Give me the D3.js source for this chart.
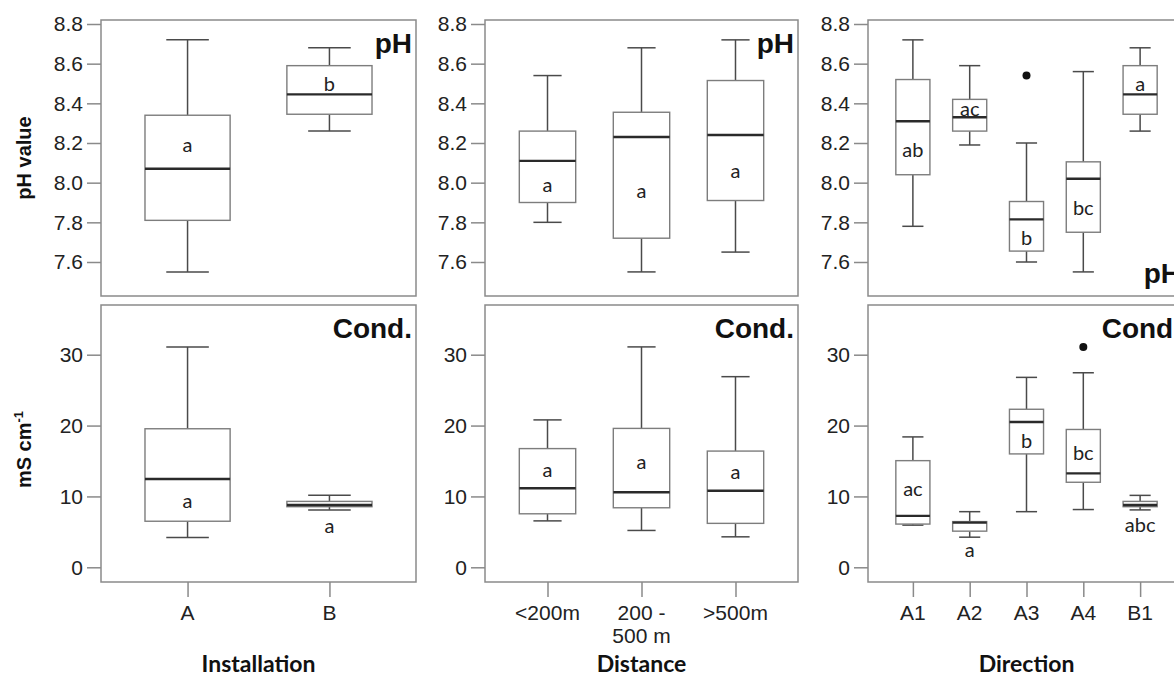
<!DOCTYPE html>
<html>
<head>
<meta charset="utf-8">
<script src="https://cdn.jsdelivr.net/npm/d3@7"></script>
<style>
  html, body { margin: 0; padding: 0; background: #fff; }
  svg { display: block; }
</style>
</head>
<body>
<svg id="chart" width="1174" height="676"></svg>
<script>
// ---- categories ----
const installCats = ["A", "B"];
const distanceCats = ["<200m", "200 -\n500 m", ">500m"];
const directionCats = ["A1", "A2", "A3", "A4", "B1"];

// ---- tick labels ----
const phTicks = [7.6, 7.8, 8.0, 8.2, 8.4, 8.6, 8.8];
const condTicks = [0, 10, 20, 30];

// ---- box statistics: [lower whisker, Q1, median, Q3, upper whisker] ----
const phInstallation = [[7.55, 7.81, 8.07, 8.34, 8.72], [8.26, 8.345, 8.445, 8.59, 8.68]];
const phDistance = [[7.80, 7.90, 8.11, 8.26, 8.54], [7.55, 7.72, 8.23, 8.355, 8.68], [7.65, 7.91, 8.24, 8.515, 8.72]];
const phDirection = [[7.78, 8.04, 8.31, 8.52, 8.72], [8.19, 8.26, 8.33, 8.42, 8.59], [7.60, 7.655, 7.815, 7.905, 8.20],
                     [7.55, 7.75, 8.02, 8.105, 8.56], [8.26, 8.345, 8.445, 8.59, 8.68]];
const condInstallation = [[4.2, 6.5, 12.45, 19.55, 31.1], [8.1, 8.55, 8.8, 9.3, 10.15]];
const condDistance = [[6.55, 7.55, 11.15, 16.75, 20.8], [5.2, 8.4, 10.6, 19.6, 31.1], [4.3, 6.2, 10.8, 16.4, 26.9]];
const condDirection = [[5.95, 6.1, 7.25, 15.05, 18.4], [4.25, 5.1, 6.3, 6.45, 7.85], [7.85, 16.0, 20.5, 22.3, 26.8],
                       [8.15, 12.0, 13.25, 19.45, 27.45], [8.1, 8.55, 8.8, 9.3, 10.15]];

// ---- outliers: [category, value] ----
const phDirectionOutliers = [["A3", 8.54]];
const condDirectionOutliers = [["A4", 31.1]];

// ---- significance letters and the value they sit at ----
const phInstallationLetters = [["a", 8.19], ["b", 8.50]];
const phDistanceLetters = [["a", 7.99], ["a", 7.96], ["a", 8.06]];
const phDirectionLetters = [["ab", 8.165], ["ac", 8.37], ["b", 7.72], ["bc", 7.87], ["a", 8.50]];
const condInstallationLetters = [["a", 9.4], ["a", 5.8]];
const condDistanceLetters = [["a", 13.7], ["a", 14.86], ["a", 13.48]];
const condDirectionLetters = [["ac", 11.0], ["a", 2.44], ["b", 17.87], ["bc", 16.08], ["abc", 5.97]];

// ---- layout ----
const svg = d3.select("#chart");
svg.append("rect").attr("width", 1174).attr("height", 676).attr("fill", "#fff");

const columns = [
  { left: 101, right: 416, padding: 0.61, cats: installCats, title: "Installation" },
  { left: 485, right: 798, padding: 0.665, cats: distanceCats, title: "Distance" },
  { left: 868, right: 1185, padding: 0.79, cats: directionCats, title: "Direction" }
];
const rows = [
  { top: 20, bottom: 296, ticks: phTicks, fmt: d3.format(".1f"),
    y: d3.scaleLinear().domain([7.6, 8.8]).range([262, 24]) },
  { top: 305, bottom: 582, ticks: condTicks, fmt: d3.format("d"),
    y: d3.scaleLinear().domain([0, 30]).range([567.3, 354.7]) }
];

const panels = [
  { r: 0, c: 0, stats: phInstallation, letters: phInstallationLetters, out: [], tag: "pH", tagPos: "top" },
  { r: 0, c: 1, stats: phDistance, letters: phDistanceLetters, out: [], tag: "pH", tagPos: "top" },
  { r: 0, c: 2, stats: phDirection, letters: phDirectionLetters, out: phDirectionOutliers, tag: "pH", tagPos: "bottom" },
  { r: 1, c: 0, stats: condInstallation, letters: condInstallationLetters, out: [], tag: "Cond.", tagPos: "top" },
  { r: 1, c: 1, stats: condDistance, letters: condDistanceLetters, out: [], tag: "Cond.", tagPos: "top" },
  { r: 1, c: 2, stats: condDirection, letters: condDirectionLetters, out: condDirectionOutliers, tag: "Cond.", tagPos: "top" }
];

const frameColor = "#8a8a8a";
const boxColor = "#7d7d7d";
const whiskerColor = "#4a4a4a";
const tickFont = "'Liberation Sans', Arial, sans-serif";
const letterFont = "Lato, 'Open Sans', sans-serif";

panels.forEach(p => {
  const col = columns[p.c], row = rows[p.r];
  const x = d3.scalePoint().domain(col.cats).range([col.left, col.right]).padding(col.padding);
  const y = row.y;
  const boxW = x.step() * 0.6;
  const capW = boxW * (p.c === 2 ? 0.62 : 0.5);
  const g = svg.append("g");

  // frame
  g.append("rect")
    .attr("x", col.left).attr("y", row.top)
    .attr("width", col.right - col.left).attr("height", row.bottom - row.top)
    .attr("fill", "none").attr("stroke", frameColor).attr("stroke-width", 1.5);

  // y axis
  const yAxis = d3.axisLeft(y).tickValues(row.ticks).tickFormat(row.fmt).tickSize(14).tickPadding(4);
  const ya = g.append("g").attr("transform", `translate(${col.left},0)`).call(yAxis);
  ya.select(".domain").remove();
  ya.selectAll(".tick line").attr("stroke", frameColor).attr("stroke-width", 1.5);
  ya.selectAll(".tick text").attr("font-family", tickFont).attr("font-size", 21).attr("fill", "#222");

  // x axis only under the bottom row
  if (p.r === 1) {
    const xAxis = d3.axisBottom(x).tickSize(15).tickFormat("");
    const xa = g.append("g").attr("transform", `translate(0,${row.bottom})`).call(xAxis);
    xa.select(".domain").remove();
    xa.selectAll(".tick line").attr("stroke", frameColor).attr("stroke-width", 1.5);
    col.cats.forEach(cat => {
      const lines = cat.split("\n");
      const t = g.append("text")
        .attr("x", x(cat)).attr("y", 620)
        .attr("text-anchor", "middle")
        .attr("font-family", tickFont).attr("font-size", 21).attr("fill", "#222");
      lines.forEach((ln, i) => {
        t.append("tspan").attr("x", x(cat)).attr("dy", i === 0 ? 0 : 23).text(ln);
      });
    });
    svg.append("text")
      .attr("x", (col.left + col.right) / 2).attr("y", 672)
      .attr("text-anchor", "middle")
      .attr("font-family", letterFont).attr("font-weight", 700).attr("font-size", 23)
      .attr("fill", "#111").text(col.title);
  }

  // boxes
  p.stats.forEach((s, i) => {
    const cx = x(col.cats[i]);
    const [lo, q1, med, q3, hi] = s;
    // whiskers
    g.append("line").attr("x1", cx).attr("x2", cx).attr("y1", y(q3)).attr("y2", y(hi))
      .attr("stroke", whiskerColor).attr("stroke-width", 1.5);
    g.append("line").attr("x1", cx).attr("x2", cx).attr("y1", y(q1)).attr("y2", y(lo))
      .attr("stroke", whiskerColor).attr("stroke-width", 1.5);
    g.append("line").attr("x1", cx - capW / 2).attr("x2", cx + capW / 2).attr("y1", y(hi)).attr("y2", y(hi))
      .attr("stroke", whiskerColor).attr("stroke-width", 1.5);
    g.append("line").attr("x1", cx - capW / 2).attr("x2", cx + capW / 2).attr("y1", y(lo)).attr("y2", y(lo))
      .attr("stroke", whiskerColor).attr("stroke-width", 1.5);
    // box
    g.append("rect")
      .attr("x", cx - boxW / 2).attr("y", y(q3))
      .attr("width", boxW).attr("height", y(q1) - y(q3))
      .attr("fill", "#fff").attr("stroke", boxColor).attr("stroke-width", 1.4);
    // median
    g.append("line").attr("x1", cx - boxW / 2).attr("x2", cx + boxW / 2).attr("y1", y(med)).attr("y2", y(med))
      .attr("stroke", "#2a2a2a").attr("stroke-width", 2.4);
  });

  // outliers
  p.out.forEach(([cat, v]) => {
    g.append("circle").attr("cx", x(cat)).attr("cy", y(v)).attr("r", 4).attr("fill", "#111");
  });

  // letters
  p.letters.forEach(([txt, v], i) => {
    g.append("text")
      .attr("x", x(col.cats[i])).attr("y", y(v)).attr("dy", "0.35em")
      .attr("text-anchor", "middle")
      .attr("font-family", letterFont).attr("font-size", 20).attr("fill", "#222")
      .text(txt);
  });

  // panel tag
  g.append("text")
    .attr("x", col.right - 4)
    .attr("y", p.tagPos === "top" ? row.top + 33 : row.bottom - 13)
    .attr("text-anchor", "end")
    .attr("font-family", tickFont).attr("font-weight", 700).attr("font-size", 28)
    .attr("fill", "#111").text(p.tag);
});

// y axis titles
svg.append("text")
  .attr("transform", `translate(31,${(rows[0].top + rows[0].bottom) / 2}) rotate(-90)`)
  .attr("text-anchor", "middle")
  .attr("font-family", tickFont).attr("font-weight", 700).attr("font-size", 20)
  .attr("fill", "#111").text("pH value");

const condTitle = svg.append("text")
  .attr("transform", `translate(31,${(rows[1].top + rows[1].bottom) / 2 + 6}) rotate(-90)`)
  .attr("text-anchor", "middle")
  .attr("font-family", tickFont).attr("font-weight", 700).attr("font-size", 20)
  .attr("fill", "#111");
condTitle.append("tspan").text("mS cm");
condTitle.append("tspan").attr("dy", -8).attr("font-size", 13).text("-1");
</script>
</body>
</html>
